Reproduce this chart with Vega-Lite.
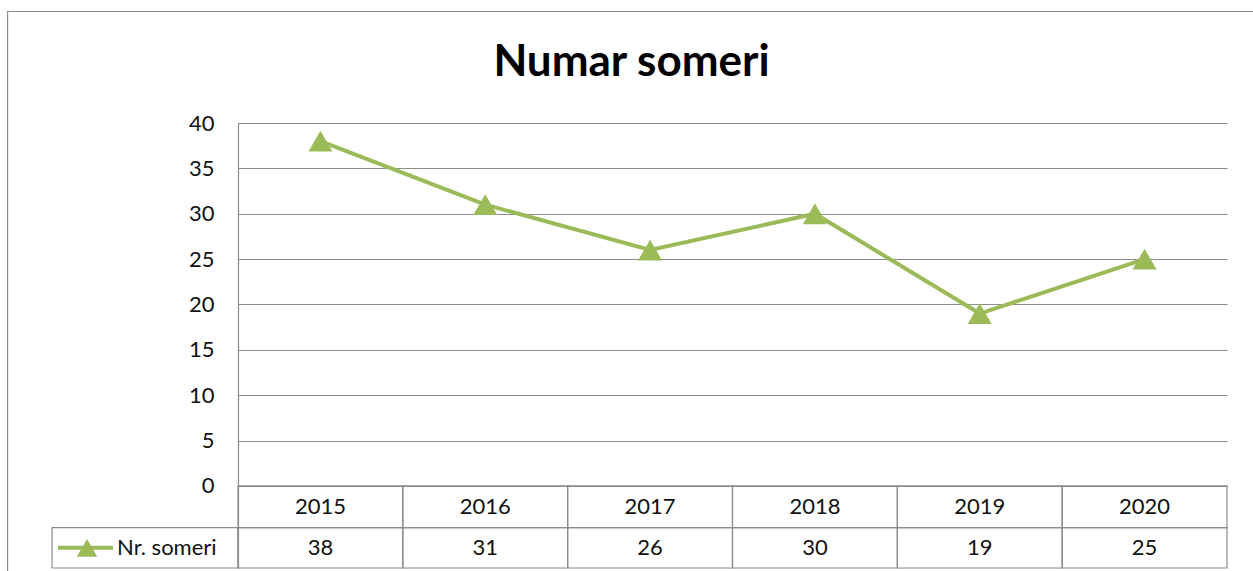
{
  "$schema": "https://vega.github.io/schema/vega-lite/v6.json",
  "width": 989,
  "height": 445,
  "autosize": {"type": "none"},
  "padding": {"left": 238, "top": 123, "right": 26, "bottom": 3},
  "background": "white",
  "title": {
    "text": "Numar someri",
    "font": "Lato",
    "fontSize": 44,
    "fontWeight": "bold",
    "color": "#000000",
    "anchor": "middle",
    "frame": "group",
    "dx": -101,
    "dy": 104,
    "offset": 30
  },
  "config": {
    "view": {"stroke": null},
    "font": "Lato",
    "axisY": {
      "labelFont": "Lato",
      "labelFontSize": 22,
      "labelColor": "#111111",
      "ticks": false,
      "labelPadding": 24,
      "domainColor": "#8c8c8c",
      "domainWidth": 1.2,
      "gridColor": "#8c8c8c",
      "gridWidth": 1.2,
      "gridOpacity": 1,
      "title": null
    }
  },
  "datasets": {
    "someri": [
      {"year": "2015", "value": 38},
      {"year": "2016", "value": 31},
      {"year": "2017", "value": 26},
      {"year": "2018", "value": 30},
      {"year": "2019", "value": 19},
      {"year": "2020", "value": 25}
    ],
    "series": [
      {"series": "Nr. someri"}
    ]
  },
  "resolve": {"scale": {"x": "independent"}, "axis": {"x": "independent"}},
  "layer": [
    {
      "data": {"name": "series"},
      "layer": [
        {
          "mark": {"type": "rect", "fill": null, "stroke": "#8c8c8c", "strokeWidth": 1.2},
          "encoding": {
            "x": {"datum": -1.398, "type": "quantitative", "scale": {"domain": [0, 6], "nice": false, "zero": false}, "axis": null},
            "x2": {"datum": 6.44},
            "y": {"datum": 52.29, "type": "quantitative", "scale": {"domain": [-9.04, 40], "nice": false, "zero": false}},
            "y2": {"datum": -12.56}
          }
        },
        {
          "mark": {"type": "rect", "fill": null, "stroke": "#8c8c8c", "strokeWidth": 1.2},
          "encoding": {
            "x": {"datum": -1.128, "type": "quantitative", "scale": {"domain": [0, 6], "nice": false, "zero": false}, "axis": null},
            "x2": {"datum": 0},
            "y": {"datum": -4.6, "type": "quantitative", "scale": {"domain": [-9.04, 40], "nice": false, "zero": false}},
            "y2": {"datum": -9.04}
          }
        },
        {
          "mark": {"type": "rule", "color": "#9BBB59", "strokeWidth": 4},
          "encoding": {
            "x": {"datum": -1.092, "type": "quantitative", "scale": {"domain": [0, 6], "nice": false, "zero": false}, "axis": null},
            "x2": {"datum": -0.758},
            "y": {"datum": -6.82, "type": "quantitative", "scale": {"domain": [-9.04, 40], "nice": false, "zero": false}}
          }
        },
        {
          "mark": {"type": "point", "shape": "triangle-up", "filled": true, "color": "#9BBB59", "size": 420, "opacity": 1},
          "encoding": {
            "x": {"datum": -0.916, "type": "quantitative", "scale": {"domain": [0, 6], "nice": false, "zero": false}, "axis": null},
            "y": {"datum": -6.82, "type": "quantitative", "scale": {"domain": [-9.04, 40], "nice": false, "zero": false}}
          }
        },
        {
          "mark": {"type": "text", "align": "left", "baseline": "middle", "font": "Lato", "fontSize": 22, "color": "#111111"},
          "encoding": {
            "x": {"datum": -0.734, "type": "quantitative", "scale": {"domain": [0, 6], "nice": false, "zero": false}, "axis": null},
            "y": {"datum": -6.82, "type": "quantitative", "scale": {"domain": [-9.04, 40], "nice": false, "zero": false}},
            "text": {"field": "series"}
          }
        }
      ]
    },
    {
      "data": {"name": "someri"},
      "layer": [
        {
          "mark": {"type": "rect", "fill": null, "stroke": "#8c8c8c", "strokeWidth": 1.2},
          "encoding": {
            "x": {"field": "year", "type": "nominal", "scale": {"type": "band", "paddingInner": 0, "paddingOuter": 0}, "axis": null},
            "y": {"datum": 0, "type": "quantitative", "scale": {"domain": [-9.04, 40], "nice": false, "zero": false}},
            "y2": {"datum": -4.6}
          }
        },
        {
          "mark": {"type": "rect", "fill": null, "stroke": "#8c8c8c", "strokeWidth": 1.2},
          "encoding": {
            "x": {"field": "year", "type": "nominal", "scale": {"type": "band", "paddingInner": 0, "paddingOuter": 0}, "axis": null},
            "y": {"datum": -4.6, "type": "quantitative", "scale": {"domain": [-9.04, 40], "nice": false, "zero": false}},
            "y2": {"datum": -9.04}
          }
        },
        {
          "mark": {"type": "text", "align": "center", "baseline": "middle", "font": "Lato", "fontSize": 22, "color": "#111111"},
          "encoding": {
            "x": {"field": "year", "type": "nominal", "scale": {"type": "band", "paddingInner": 0, "paddingOuter": 0}, "axis": null},
            "y": {"datum": -2.3, "type": "quantitative", "scale": {"domain": [-9.04, 40], "nice": false, "zero": false}},
            "text": {"field": "year"}
          }
        },
        {
          "mark": {"type": "text", "align": "center", "baseline": "middle", "font": "Lato", "fontSize": 22, "color": "#111111"},
          "encoding": {
            "x": {"field": "year", "type": "nominal", "scale": {"type": "band", "paddingInner": 0, "paddingOuter": 0}, "axis": null},
            "y": {"datum": -6.82, "type": "quantitative", "scale": {"domain": [-9.04, 40], "nice": false, "zero": false}},
            "text": {"field": "value", "type": "quantitative"}
          }
        },
        {
          "mark": {"type": "line", "color": "#9BBB59", "strokeWidth": 4},
          "encoding": {
            "x": {"field": "year", "type": "nominal", "scale": {"type": "band", "paddingInner": 0, "paddingOuter": 0}, "axis": null},
            "y": {
              "field": "value",
              "type": "quantitative",
              "scale": {"domain": [-9.04, 40], "nice": false, "zero": false},
              "axis": {"values": [0, 5, 10, 15, 20, 25, 30, 35, 40], "grid": true, "domain": true}
            }
          }
        },
        {
          "mark": {"type": "point", "shape": "triangle-up", "filled": true, "color": "#9BBB59", "size": 576, "opacity": 1},
          "encoding": {
            "x": {"field": "year", "type": "nominal", "scale": {"type": "band", "paddingInner": 0, "paddingOuter": 0}, "axis": null},
            "y": {"field": "value", "type": "quantitative", "scale": {"domain": [-9.04, 40], "nice": false, "zero": false}}
          }
        }
      ]
    }
  ]
}
